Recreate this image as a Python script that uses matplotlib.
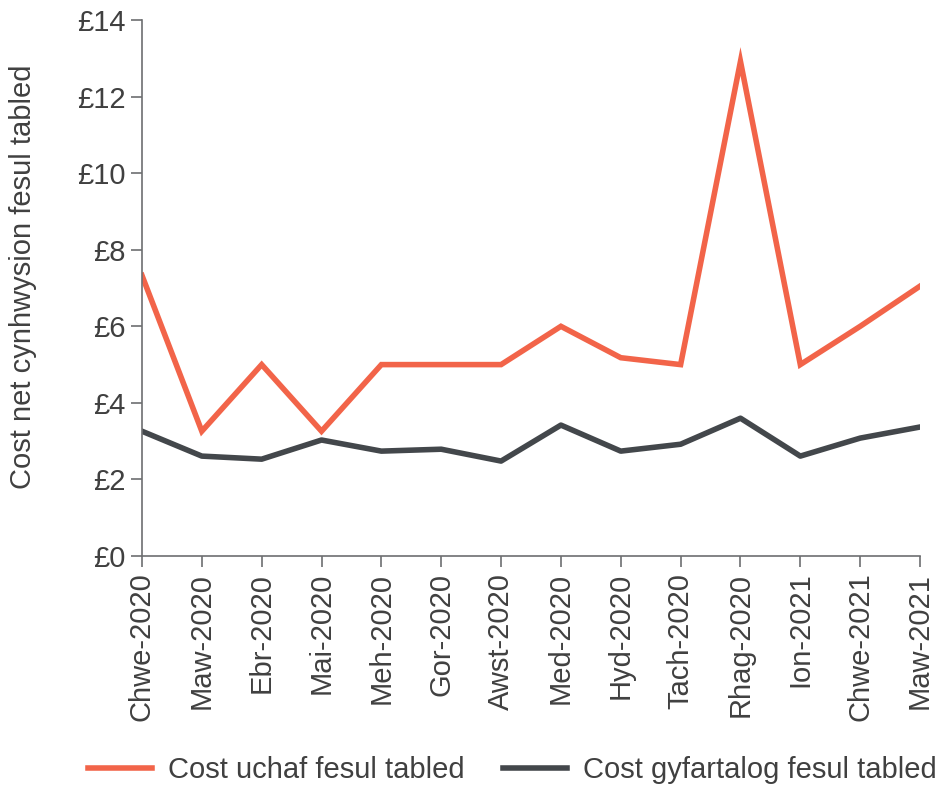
import matplotlib
matplotlib.use("Agg")
import matplotlib.pyplot as plt
from matplotlib.ticker import FuncFormatter

months = ["Chwe-2020", "Maw-2020", "Ebr-2020", "Mai-2020", "Meh-2020", "Gor-2020",
          "Awst-2020", "Med-2020", "Hyd-2020", "Tach-2020", "Rhag-2020", "Ion-2021",
          "Chwe-2021", "Maw-2021"]
cost_max = [7.33, 3.26, 5.0, 3.26, 5.0, 5.0, 5.0, 6.0, 5.18, 5.0, 12.92, 5.0, 6.0, 7.05]
cost_avg = [3.26, 2.61, 2.53, 3.03, 2.74, 2.79, 2.48, 3.42, 2.74, 2.92, 3.60, 2.61, 3.08, 3.37]

plt.rcParams['font.family'] = ['Liberation Sans', 'DejaVu Sans']
txt = '#404040'
axis_c = '#6d6e71'
fs = 21

fig = plt.figure(figsize=(9.44, 7.87), dpi=100)
ax = fig.add_axes([0.1504, 0.2935, 0.8242, 0.681])

x = range(len(months))
ax.plot(x, cost_max, color='#f26449', lw=4, label='Cost uchaf fesul tabled', solid_joinstyle='miter')
ax.plot(x, cost_avg, color='#43474b', lw=4, label='Cost gyfartalog fesul tabled')

ax.set_xlim(0, len(months) - 1)
ax.set_ylim(0, 14)
ax.set_yticks(range(0, 15, 2))
ax.yaxis.set_major_formatter(FuncFormatter(lambda v, p: f"£{v:.0f}"))
ax.set_xticks(list(x))
ax.set_xticklabels(months, rotation=90)

for s in ['top', 'right']:
    ax.spines[s].set_visible(False)
for s in ['left', 'bottom']:
    ax.spines[s].set_color(axis_c)
    ax.spines[s].set_linewidth(1.2)
ax.tick_params(axis='both', colors=axis_c, labelcolor=txt, labelsize=fs,
               length=8, width=1.2, direction='out', pad=4)
ax.set_ylabel("Cost net cynhwysion fesul tabled", fontsize=fs, color=txt)
ax.yaxis.set_label_coords(-0.135, 0.522)

ax.legend(loc='center', bbox_to_anchor=(0.476, -0.399), ncol=2, frameon=False,
          fontsize=fs, labelcolor=txt, handlelength=2.2, columnspacing=1.3,
          handletextpad=0.55, borderpad=0)

fig.savefig("out.png", dpi=100)
